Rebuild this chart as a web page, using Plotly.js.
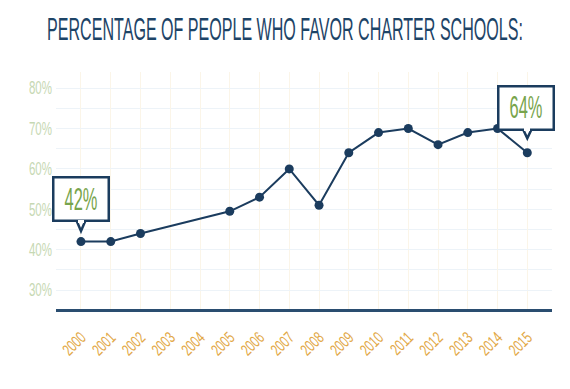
<!DOCTYPE html>
<html>
<head>
<meta charset="utf-8">
<script src="https://cdn.plot.ly/plotly-3.0.1.min.js"></script>
<style>html,body{margin:0;padding:0;background:#fff;}#chart{width:570px;height:389px;}</style>
</head>
<body>
<div id="chart"></div>
<script>
var years = [2000, 2001, 2002, 2005, 2006, 2007, 2008, 2009, 2010, 2011, 2012, 2013, 2014, 2015];
var favor = [42, 42, 44, 49.5, 53, 60, 51, 64, 69, 70, 66, 69, 70, 64];
var xTickYears = [2000,2001,2002,2003,2004,2005,2006,2007,2008,2009,2010,2011,2012,2013,2014,2015];
var yTickVals = [30, 40, 50, 60, 70, 80];
var yTickText = ['30%', '40%', '50%', '60%', '70%', '80%'];
var calloutYears = [2000, 2015];
var calloutValues = [42, 64];
var calloutLabels = ['42%', '64%'];
var titleText = 'PERCENTAGE OF PEOPLE WHO FAVOR CHARTER SCHOOLS:';

var NAVY = '#1b3c5e';
var FONT = '"Liberation Sans", Arial, sans-serif';

var trace = {
  x: years, y: favor, type: 'scatter', mode: 'lines+markers',
  line: {color: NAVY, width: 2},
  marker: {color: NAVY, size: 9},
  hoverinfo: 'skip'
};

// per-callout geometry (pixels relative to the data point)
var geo = [
  {xshift: 0, bottom: 20.5, tip: 10.5},
  {xshift: -1.5, bottom: 23.5, tip: 14.5}
];

var annotations = [];
var shapes = [];
calloutYears.forEach(function(yr, i) {
  var g = geo[i];
  shapes.push({
    type: 'path', xref: 'x', yref: 'y', xsizemode: 'pixel', ysizemode: 'pixel',
    xanchor: yr, yanchor: calloutValues[i],
    path: 'M -4.5,' + (g.bottom + 0.5) + ' L 0,' + g.tip + ' L 4.5,' + (g.bottom + 0.5),
    fillcolor: '#ffffff', line: {color: NAVY, width: 2.5}, layer: 'above'
  });
  // the box
  annotations.push({
    x: yr, y: calloutValues[i], xref: 'x', yref: 'y', showarrow: false,
    text: ' ', xanchor: 'center', yanchor: 'bottom',
    xshift: g.xshift, yshift: g.bottom - 1.25,
    width: 53, height: 41, borderpad: 0, borderwidth: 2.5,
    bordercolor: NAVY, bgcolor: '#ffffff', font: {size: 4}
  });
  // gap in the box bottom where the pointer opens
  annotations.push({
    x: yr, y: calloutValues[i], xref: 'x', yref: 'y', showarrow: false,
    text: ' ', xanchor: 'center', yanchor: 'middle',
    yshift: g.bottom, width: 6, height: 3, borderpad: 0, borderwidth: 0,
    bgcolor: '#ffffff', font: {size: 2}
  });
  // the label
  annotations.push({
    x: yr, y: calloutValues[i], xref: 'x', yref: 'y', showarrow: false,
    text: calloutLabels[i], xanchor: 'center', yanchor: 'middle',
    xshift: g.xshift, yshift: g.bottom + 21.5,
    borderpad: 0, borderwidth: 0,
    font: {family: FONT, size: 31, color: '#78a44c'}
  });
});

var layout = {
  width: 570, height: 389,
  margin: {l: 56, r: 18, t: 72, b: 80, pad: 0},
  paper_bgcolor: '#ffffff', plot_bgcolor: '#ffffff',
  showlegend: false,
  title: {
    text: titleText, xref: 'container', x: 0.5, xanchor: 'center',
    yref: 'container', y: 0.927, yanchor: 'middle',
    font: {family: FONT, size: 32, color: '#1d4467'}
  },
  xaxis: {
    range: [1999.16, 2015.83], tickmode: 'array', tickvals: xTickYears,
    ticktext: xTickYears.map(String), tickangle: -45,
    showgrid: true, gridcolor: '#fbf5e8', gridwidth: 1,
    zeroline: false, showline: true, linecolor: '#2a4d70', linewidth: 2.5,
    ticks: 'outside', ticklen: 10, tickcolor: 'rgba(0,0,0,0)',
    tickfont: {family: FONT, size: 16.5, color: '#e2a846'},
    fixedrange: true
  },
  yaxis: {
    range: [25.3, 84], tickmode: 'array', tickvals: yTickVals, ticktext: yTickText,
    showgrid: true, gridcolor: '#edf3f8', gridwidth: 1,
    minor: {dtick: 5, showgrid: true, gridcolor: '#edf3f8', gridwidth: 1, ticks: ''},
    zeroline: false, showline: false, ticks: '', ticklabelstandoff: 3,
    tickfont: {family: FONT, size: 18, color: '#c6d8b3'},
    fixedrange: true
  },
  annotations: annotations,
  shapes: shapes
};

// condense text horizontally (the reference uses a very narrow typeface)
function condense(selector, factor) {
  document.querySelectorAll(selector).forEach(function(t) {
    var w = t.getComputedTextLength();
    if (!w) return;
    t.setAttribute('textLength', w * factor);
    t.setAttribute('lengthAdjust', 'spacingAndGlyphs');
  });
}
function condenseByTransform(selector, opts) {
  document.querySelectorAll(selector).forEach(function(t) {
    var w = t.getComputedTextLength();
    if (!w || w < 5) return;
    var s = opts.width ? opts.width / w : opts.factor;
    var cx = parseFloat(t.getAttribute('x')) || 0;
    var prev = t.getAttribute('transform') || '';
    t.setAttribute('transform', prev + ' translate(' + (cx * (1 - s)) + ',0) scale(' + s + ',1)');
  });
}

Plotly.newPlot('chart', [trace], layout, {displayModeBar: false, staticPlot: true}).then(function() {
  condenseByTransform('text.gtitle', {width: 476});
  condense('.ytick text', 0.64);
  condense('.xtick text', 0.68);
  condenseByTransform('text.annotation-text', {factor: 0.53});
});
</script>
</body>
</html>
